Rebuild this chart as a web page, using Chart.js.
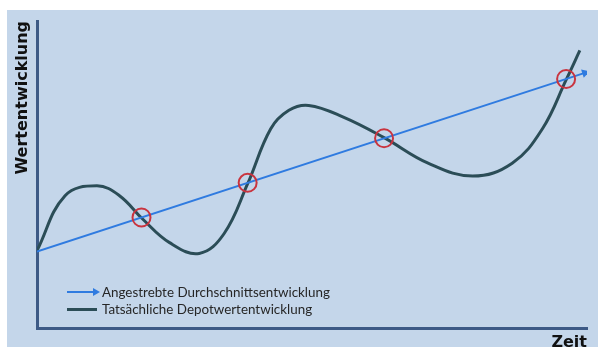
<!DOCTYPE html>
<html>
<head>
<meta charset="utf-8">
<script src="https://cdn.jsdelivr.net/npm/chart.js@4"></script>
<style>
  html, body { margin: 0; padding: 0; background: #ffffff; width: 598px; height: 347px; overflow: hidden; }
  #wrap { position: absolute; left: 7px; top: 10px; width: 591px; height: 337px; background: #c4d6ea; }
  #legend { position: absolute; left: 60px; top: 284px; font-family: Lato, "Open Sans", sans-serif; font-size: 13.4px; color: #262626; }
  .row { position: relative; height: 17px; line-height: 17px; padding-left: 42px; white-space: nowrap; }
  .sample { position: absolute; left: 7px; top: 7px; width: 30px; height: 3px; }
  .arrow { position: absolute; left: 33px; top: 4px; width: 0; height: 0; border-top: 4.5px solid transparent; border-bottom: 4.5px solid transparent; border-left: 7px solid #2f7be0; }
</style>
</head>
<body>
<div id="wrap"><canvas id="c"></canvas></div>
<div id="legend"></div>
<script>
// --- data ---
const seriesNames = ['Angestrebte Durchschnittsentwicklung', 'Tatsächliche Depotwertentwicklung'];
const axisTitleY = 'Wertentwicklung';
const axisTitleX = 'Zeit';

// target (average) development: straight line with arrow
const targetX = [0, 99.6];
const targetY = [24.9, 83.1];

// actual portfolio development
const curveX = [0, 5.1, 10.9, 15.0, 19.2, 24.1, 29.5, 34.0, 38.3, 42.5, 45.8, 49.4, 55.7, 63.1, 71.1, 79.2, 86.4, 91.9, 96.2, 98.7];
const curveY = [25.2, 43.1, 46.3, 43.1, 35.5, 27.8, 24.3, 30.7, 47.0, 64.9, 70.9, 72.5, 68.7, 62.0, 53.7, 49.5, 53.7, 64.9, 80.8, 90.4];

// crossing points (red circles)
const crossX = [19.0, 38.3, 63.1, 96.2];
const crossY = [36.0, 47.3, 61.8, 81.1];

const BLUE = '#2f7be0', DARK = '#2b4d57', RED = '#c9343f', AXIS = '#3d5a86';

const zip = (xs, ys) => xs.map((x, i) => ({ x, y: ys[i] }));

new Chart(document.getElementById('c'), {
  type: 'line',
  data: {
    datasets: [
      {
        label: seriesNames[1],
        data: zip(curveX, curveY),
        borderColor: DARK,
        borderWidth: 3,
        pointRadius: 0,
        tension: 0.4,
        fill: false,
        order: 2
      },
      {
        label: seriesNames[0],
        data: zip(targetX, targetY),
        borderColor: BLUE,
        backgroundColor: BLUE,
        borderWidth: 2,
        tension: 0,
        pointStyle: 'triangle',
        pointRadius: [0, 5],
        pointRotation: [0, 72],
        pointBorderWidth: 0,
        fill: false,
        order: 1
      },
      {
        label: 'crossings',
        type: 'scatter',
        data: zip(crossX, crossY),
        showLine: false,
        pointStyle: 'circle',
        pointRadius: 9,
        pointBorderWidth: 2,
        pointBorderColor: RED,
        pointBackgroundColor: 'rgba(0,0,0,0)',
        order: 0
      }
    ]
  },
  options: {
    responsive: true,
    maintainAspectRatio: false,
    animation: false,
    layout: { padding: { top: 5, right: 8, left: 0, bottom: 0 } },
    plugins: { legend: { display: false }, tooltip: { enabled: false } },
    scales: {
      x: {
        type: 'linear', min: 0, max: 100,
        grid: { display: false },
        ticks: { display: false },
        border: { display: true, color: AXIS, width: 3 },
        title: { display: true, text: axisTitleX, align: 'end', color: '#111', padding: { top: 0, bottom: -5.6 },
                 font: { family: 'DejaVu Sans', size: 16, weight: 'bold' } },
        afterFit: s => { s.height = 19; }
      },
      y: {
        type: 'linear', min: 0, max: 100,
        grid: { display: false },
        ticks: { display: false },
        border: { display: true, color: AXIS, width: 3 },
        title: { display: true, text: axisTitleY, align: 'end', color: '#111', padding: { top: 6.4, bottom: 0 },
                 font: { family: 'DejaVu Sans', size: 16, weight: 'bold' } },
        afterFit: s => { s.width = 30; }
      }
    }
  }
});

// legend as HTML text
const legend = document.getElementById('legend');
seriesNames.forEach((name, i) => {
  const row = document.createElement('div');
  row.className = 'row';
  const s = document.createElement('div');
  s.className = 'sample';
  s.style.background = i === 0 ? BLUE : DARK;
  if (i === 0) { s.style.height = '2px'; s.style.width = '27px'; }
  row.appendChild(s);
  if (i === 0) { const a = document.createElement('div'); a.className = 'arrow'; row.appendChild(a); }
  row.appendChild(document.createTextNode(name));
  legend.appendChild(row);
});
</script>
</body>
</html>
